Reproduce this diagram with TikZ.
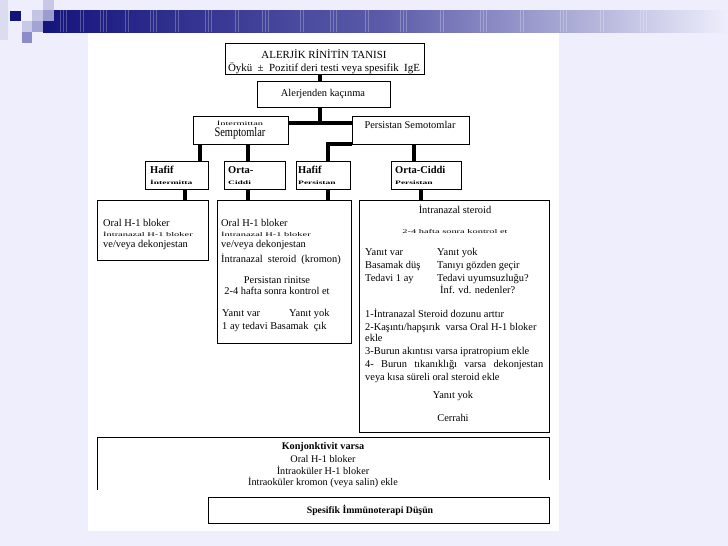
\documentclass[tikz,border=0pt]{standalone}
\usepackage{fontspec}
\setmainfont{Liberation Serif}
\definecolor{bgc}{RGB}{238,238,252}
\definecolor{navy}{RGB}{20,20,125}
\definecolor{midb}{RGB}{92,92,170}
\definecolor{sqa}{RGB}{220,220,240}
\definecolor{sqb}{RGB}{200,200,228}
\definecolor{sqc}{RGB}{196,196,228}
\definecolor{sqd}{RGB}{156,156,208}
\definecolor{sqe}{RGB}{200,200,232}
\definecolor{sqf}{RGB}{164,164,212}
\definecolor{sqg}{RGB}{140,140,200}
\newcommand\mybox[5]{\node[box,minimum width={#4-#2},minimum height={#5-#3}] (#1) at ({(#2+#4)/2},{(#3+#5)/2}) {};}
\newcommand\squash[1]{\scalebox{1}[0.55]{#1}}
\begin{document}
\begin{tikzpicture}[x=1pt,y=-1pt,
  box/.style={draw=black,line width=0.8pt,inner sep=0pt,outer sep=0pt},
  conn/.style={line width=4pt,draw=black},
  tx/.style={inner sep=0pt,anchor=base west,font=\fontsize{10.4}{12}\selectfont},
  tc/.style={inner sep=0pt,anchor=base,font=\fontsize{10.4}{12}\selectfont},
  tm/.style={inner sep=0pt,anchor=center,font=\fontsize{10.4}{12}\selectfont},
  tl/.style={inner sep=0pt,anchor=west,font=\fontsize{10.4}{12}\selectfont},
  big/.style={font=\fontsize{10.9}{12}\selectfont},
  hb/.style={inner sep=0pt,anchor=base west,font=\bfseries\fontsize{10.5}{12}\selectfont},
  hs/.style={inner sep=0pt,anchor=west,font=\bfseries\fontsize{9.5}{11}\selectfont}]
\useasboundingbox (0,0) rectangle (728,546);
% slide background
\fill[bgc] (0,0) rectangle (728,546);
\fill[left color=navy,right color=bgc,middle color=midb] (43,10) rectangle (728,32);
\foreach \x in {60,63,66,80,83,100,103,106,125,128,150,153,156,175,178,205,208,211,235,238,262,265,268,300,303,330,333,336,365,368,400,403,406,440,443,480,483,486,520,523,560,563,566,600,603,640,643,646}
  \draw[white,opacity=0.25,line width=0.6pt] (\x,10) -- (\x,32);
\fill[sqa] (0,0) rectangle (8,40);
\fill[sqb] (43,0) rectangle (54,10);
\fill[navy] (10,11) rectangle (21,21);
\fill[sqc] (32,10) rectangle (43,21);
\fill[sqd] (43,10) rectangle (54,21);
\fill[sqe] (22,21) rectangle (32,32);
\fill[sqf] (32,21) rectangle (43,32);
\fill[sqg] (22,32) rectangle (32,43);
% white picture area
\fill[white] (88,33) rectangle (559,531);
% boxes
\mybox{top}{225}{43}{424}{74}
\mybox{alerj}{257}{81}{390}{107}
\mybox{inter}{193}{116}{288}{144}
\mybox{pers}{352}{116}{469}{144}
\mybox{hi}{145}{161}{208}{189}
\mybox{oci}{224}{161}{285}{189}
\mybox{hp}{296}{161}{350}{189}
\mybox{ocp}{391}{161}{461}{189}
\mybox{ba}{97}{200}{208}{260}
\mybox{bb}{217}{200}{351}{343}
\mybox{bc}{359}{200}{549}{432}
\mybox{spes}{208}{497}{549}{523}
% konjonktivit (open at bottom)
\coordinate (k1) at (97,490);
\coordinate (k2) at (97,437);
\coordinate (k3) at (549,437);
\coordinate (k4) at (549,480);
\draw[line width=0.8pt] (k1) -- (k2) -- (k3) -- (k4);
% connectors
\coordinate (xm) at (320,0);
\coordinate (hbar) at (320,123);
\coordinate (xa) at (200,0);
\coordinate (xb) at (248,0);
\coordinate (xc) at (328,0);
\coordinate (xd) at (414,0);
\coordinate (xe) at (185,0);
\coordinate (xf) at (421,0);
\draw[conn] (xm |- top.south) -- (xm |- alerj.north);
\draw[conn] (xm |- alerj.south) -- (hbar);
\draw[conn] (inter.east |- hbar) -- (pers.west |- hbar);
\draw[conn] (xa |- inter.south) -- (xa |- hi.north);
\draw[conn] (xb |- inter.south) -- (xb |- oci.north);
\draw[conn,line join=miter] (pers.south west) -| (xc |- hp.north);
\draw[conn] (xd |- pers.south) -- (xd |- ocp.north);
\draw[conn] (xe |- hi.south) -- (xe |- ba.north);
\draw[conn] (xb |- oci.south) -- (xb |- bb.north);
\draw[conn] (xc |- hp.south) -- (xc |- bb.north);
\draw[conn] (xf |- ocp.south) -- (xf |- bc.north);
% texts: top
\node[tc,big] (t1) at (324,58.5) {ALERJİK RİNİTİN TANISI};
\node[tc,big] (t2) at (324,71.5) {Öykü \ ± \ Pozitif deri testi veya spesifik \ IgE};
\node[tc] (t3) at (323,96.5) {Alerjenden kaçınma};
\node[tm] (t4) at (240,123) {\squash{İntermittan}};
\node[tm] (t5) at (240,133) {\scalebox{1}[1.25]{Semptomlar}};
\node[tc] (t6) at (410,128.5) {Persistan Semotomlar};
% level 3
\node[hb] (h1) at (150,173.5) {Hafif};
\node[hs] (h2) at (150,182.5) {\squash{İntermitta}};
\node[hb] (h3) at (228,173.5) {Orta-};
\node[hs] (h4) at (228,182.5) {\squash{Ciddi}};
\node[hb] (h5) at (298,173.5) {Hafif};
\node[hs] (h6) at (298,182.5) {\squash{Persistan}};
\node[hb] (h7) at (395,173.5) {Orta-Ciddi};
\node[hs] (h8) at (395,182.5) {\squash{Persistan}};
% box A
\node[tx] (a1) at (103,226) {Oral H-1 bloker};
\node[tl] (a2) at (103,234) {\squash{İntranazal H-1 bloker}};
\node[tx] (a3) at (103,247.5) {ve/veya dekonjestan};
% box B
\node[tx] (b1) at (221,226) {Oral H-1 bloker};
\node[tl] (b2) at (221,234) {\squash{İntranazal H-1 bloker}};
\node[tx] (b3) at (221,247.5) {ve/veya dekonjestan};
\node[tx] (b4) at (221,262) {İntranazal \ steroid \ (kromon)};
\node[tc] (b5) at (277,283) {Persistan rinitse};
\node[tc] (b6) at (277,294) {2-4 hafta sonra kontrol et};
\node[tx] (b7) at (222,316) {Yanıt var};
\node[tx] (b8) at (289,316) {Yanıt yok};
\node[tx] (b9) at (222,329) {1 ay tedavi Basamak \ çık};
% box C
\node[tc] (c1) at (455,213.5) {İntranazal steroid};
\node[tm] (c2) at (455,232) {\squash{2-4 hafta sonra kontrol et}};
\node[tx] (c3) at (365,255.5) {Yanıt var};
\node[tx] (c4) at (437,255.5) {Yanıt yok};
\node[tx] (c5) at (365,268.5) {Basamak düş};
\node[tx] (c6) at (437,268.5) {Tanıyı gözden geçir};
\node[tx] (c7) at (365,281.5) {Tedavi 1 ay};
\node[tx] (c8) at (437,281.5) {Tedavi uyumsuzluğu?};
\node[tx] (c9) at (440,293.5) {İnf. vd. nedenler?};
\node[tx] (c10) at (365,317) {1-İntranazal Steroid dozunu arttır};
\node[tx] (c11) at (365,330) {2-Kaşıntı/hapşırık \ varsa Oral H-1 bloker};
\node[tx] (c12) at (365,341) {ekle};
\node[tx] (c13) at (365,354) {3-Burun akıntısı varsa ipratropium ekle};
\node[tx] (c14) at (365,367) {\makebox[178pt][s]{4-\hfill Burun\hfill tıkanıklığı\hfill varsa\hfill dekonjestan}};
\node[tx] (c15) at (365,380) {veya kısa süreli oral steroid ekle};
\node[tc] (c16) at (453,398) {Yanıt yok};
\node[tc] (c17) at (453,421) {Cerrahi};
% konjonktivit
\node[tc,font=\bfseries\fontsize{10.2}{12}\selectfont] (k5) at (323,449) {Konjonktivit varsa};
\node[tc,font=\fontsize{10.2}{12}\selectfont] (k6) at (323,462) {Oral H-1 bloker};
\node[tc,font=\fontsize{10.2}{12}\selectfont] (k7) at (323,474) {İntraoküler H-1 bloker};
\node[tc,font=\fontsize{10.2}{12}\selectfont] (k8) at (323,485) {İntraoküler kromon (veya salin) ekle};
\node[tc,font=\bfseries\fontsize{9.8}{11}\selectfont] (s1) at (370,513.5) {Spesifik İmmünoterapi Düşün};
\end{tikzpicture}
\end{document}
